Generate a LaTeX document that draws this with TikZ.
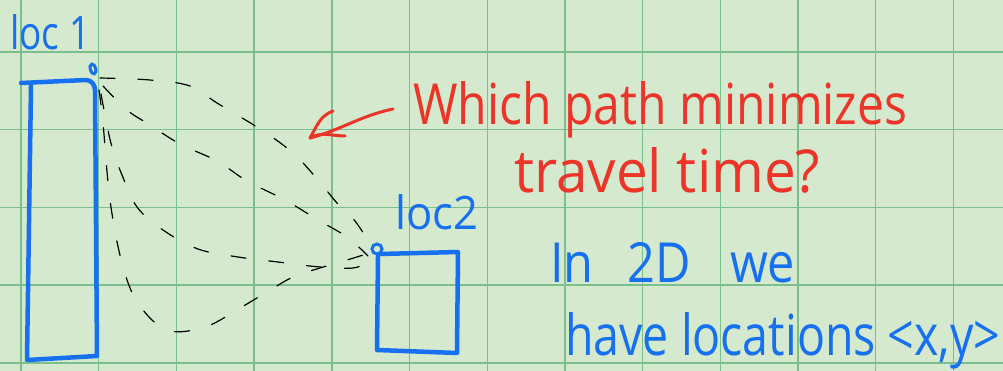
\documentclass[tikz,border=0pt]{standalone}
\usepackage{fontspec}
\usepackage{graphicx}
\setmainfont{Open Sans}
\definecolor{paper}{RGB}{212,233,205}
\definecolor{gridline}{RGB}{122,192,142}
\definecolor{inkblue}{RGB}{22,112,240}
\definecolor{inkred}{RGB}{236,52,40}
\tikzset{
  gridrule/.style={gridline, line width=1.4pt},
  bluestroke/.style={inkblue, line width=4.5pt, line cap=round, line join=round},
  dotstroke/.style={inkblue, line width=3pt},
  redstroke/.style={inkred, line width=3pt, line cap=round, line join=round},
  route/.style={black, line width=1.2pt, line cap=round, dash pattern=on 15pt off 23pt},
  bluetext/.style={inkblue, anchor=base west, inner sep=0pt},
  redtext/.style={inkred, anchor=base west, inner sep=0pt}
}
\begin{document}
\begin{tikzpicture}[x=1pt,y=-1pt]
  % paper and grid
  \fill[paper] (0,0) rectangle (1003,371);
  \useasboundingbox (0,0) rectangle (1003,371);
  \foreach \k in {0,...,12} {
    \draw[gridrule] ({21+77.7*\k},0) -- ({21+77.7*\k},371);
  }
  \foreach \k in {0,...,4} {
    \draw[gridrule] (0,{52+77.7*\k}) -- (1003,{52+77.7*\k});
  }

  % location 1: tall box with its marker
  \draw[bluestroke] (21,83) -- (86,80) to[out=0,in=90] (95,90) -- (97,356) -- (27,360) -- (31,86);
  \draw[dotstroke, rotate around={15:(93,69)}] (93,69) ellipse (2.8pt and 5pt);
  \node[bluetext] (loc1) at (10,50) {\resizebox{80pt}{35pt}{loc 1}};

  % location 2: square box with its marker
  \draw[bluestroke] (380,254) -- (458,252) -- (457,353) -- (377,350) -- (378,256);
  \draw[dotstroke] (377,249) circle (5pt);
  \node[bluetext] (loc2) at (395,230) {\resizebox{83pt}{35pt}{loc2}};

  % end points of the candidate routes
  \coordinate (p1) at (100,78);
  \coordinate (p2) at (372,247);
  \coordinate (p1b) at (103,86);
  \coordinate (p2b) at (368,256);
  \coordinate (p1c) at (101,94);
  \coordinate (p2c) at (368,262);
  \coordinate (p1d) at (99,90);
  \coordinate (p2d) at (373,252);

  % candidate routes
  \draw[route] plot[smooth, tension=0.6] coordinates {(p1) (150,80) (190,86) (217,103) (260,129) (293,153) (318,180) (337,203) (355,221) (p2)};
  \draw[route] plot[smooth, tension=0.6] coordinates {(p1b) (127,110) (150,125) (180,144) (217,161) (247,181) (285,200) (318,220) (347,237) (p2b)};
  \draw[route] plot[smooth, tension=0.6] coordinates {(p1c) (106,120) (112,147) (122,175) (137,207) (163,230) (198,249) (238,257) (278,262) (320,267) (353,268) (p2c)};
  \draw[route] plot[smooth, tension=0.6] coordinates {(p1d) (103,123) (110,200) (122,263) (138,303) (167,330) (205,327) (240,308) (267,292) (293,277) (320,268) (347,260) (p2d)};

  % question and pointer
  \coordinate (tail) at (393,109);
  \coordinate (tip) at (310,138);
  \draw[redstroke] (tail) to[out=192,in=15] (tip);
  \draw[redstroke] (333,111) to[out=200,in=60] (tip) to[out=30,in=180] (345,136);
  \node[redtext] (q1) at (413,125) {\resizebox{494pt}{43pt}{Which path minimizes}};
  \node[redtext] (q2) at (514,193) {\resizebox{306pt}{45pt}{travel time?}};

  % note
  \node[bluetext] (n1) at (550,283) {\resizebox{245pt}{40pt}{In\hspace{0.7em}2D\hspace{0.8em}we}};
  \node[bluetext] (n2) at (565,355) {\resizebox{435pt}{43pt}{have locations <x,y>}};
\end{tikzpicture}
\end{document}
